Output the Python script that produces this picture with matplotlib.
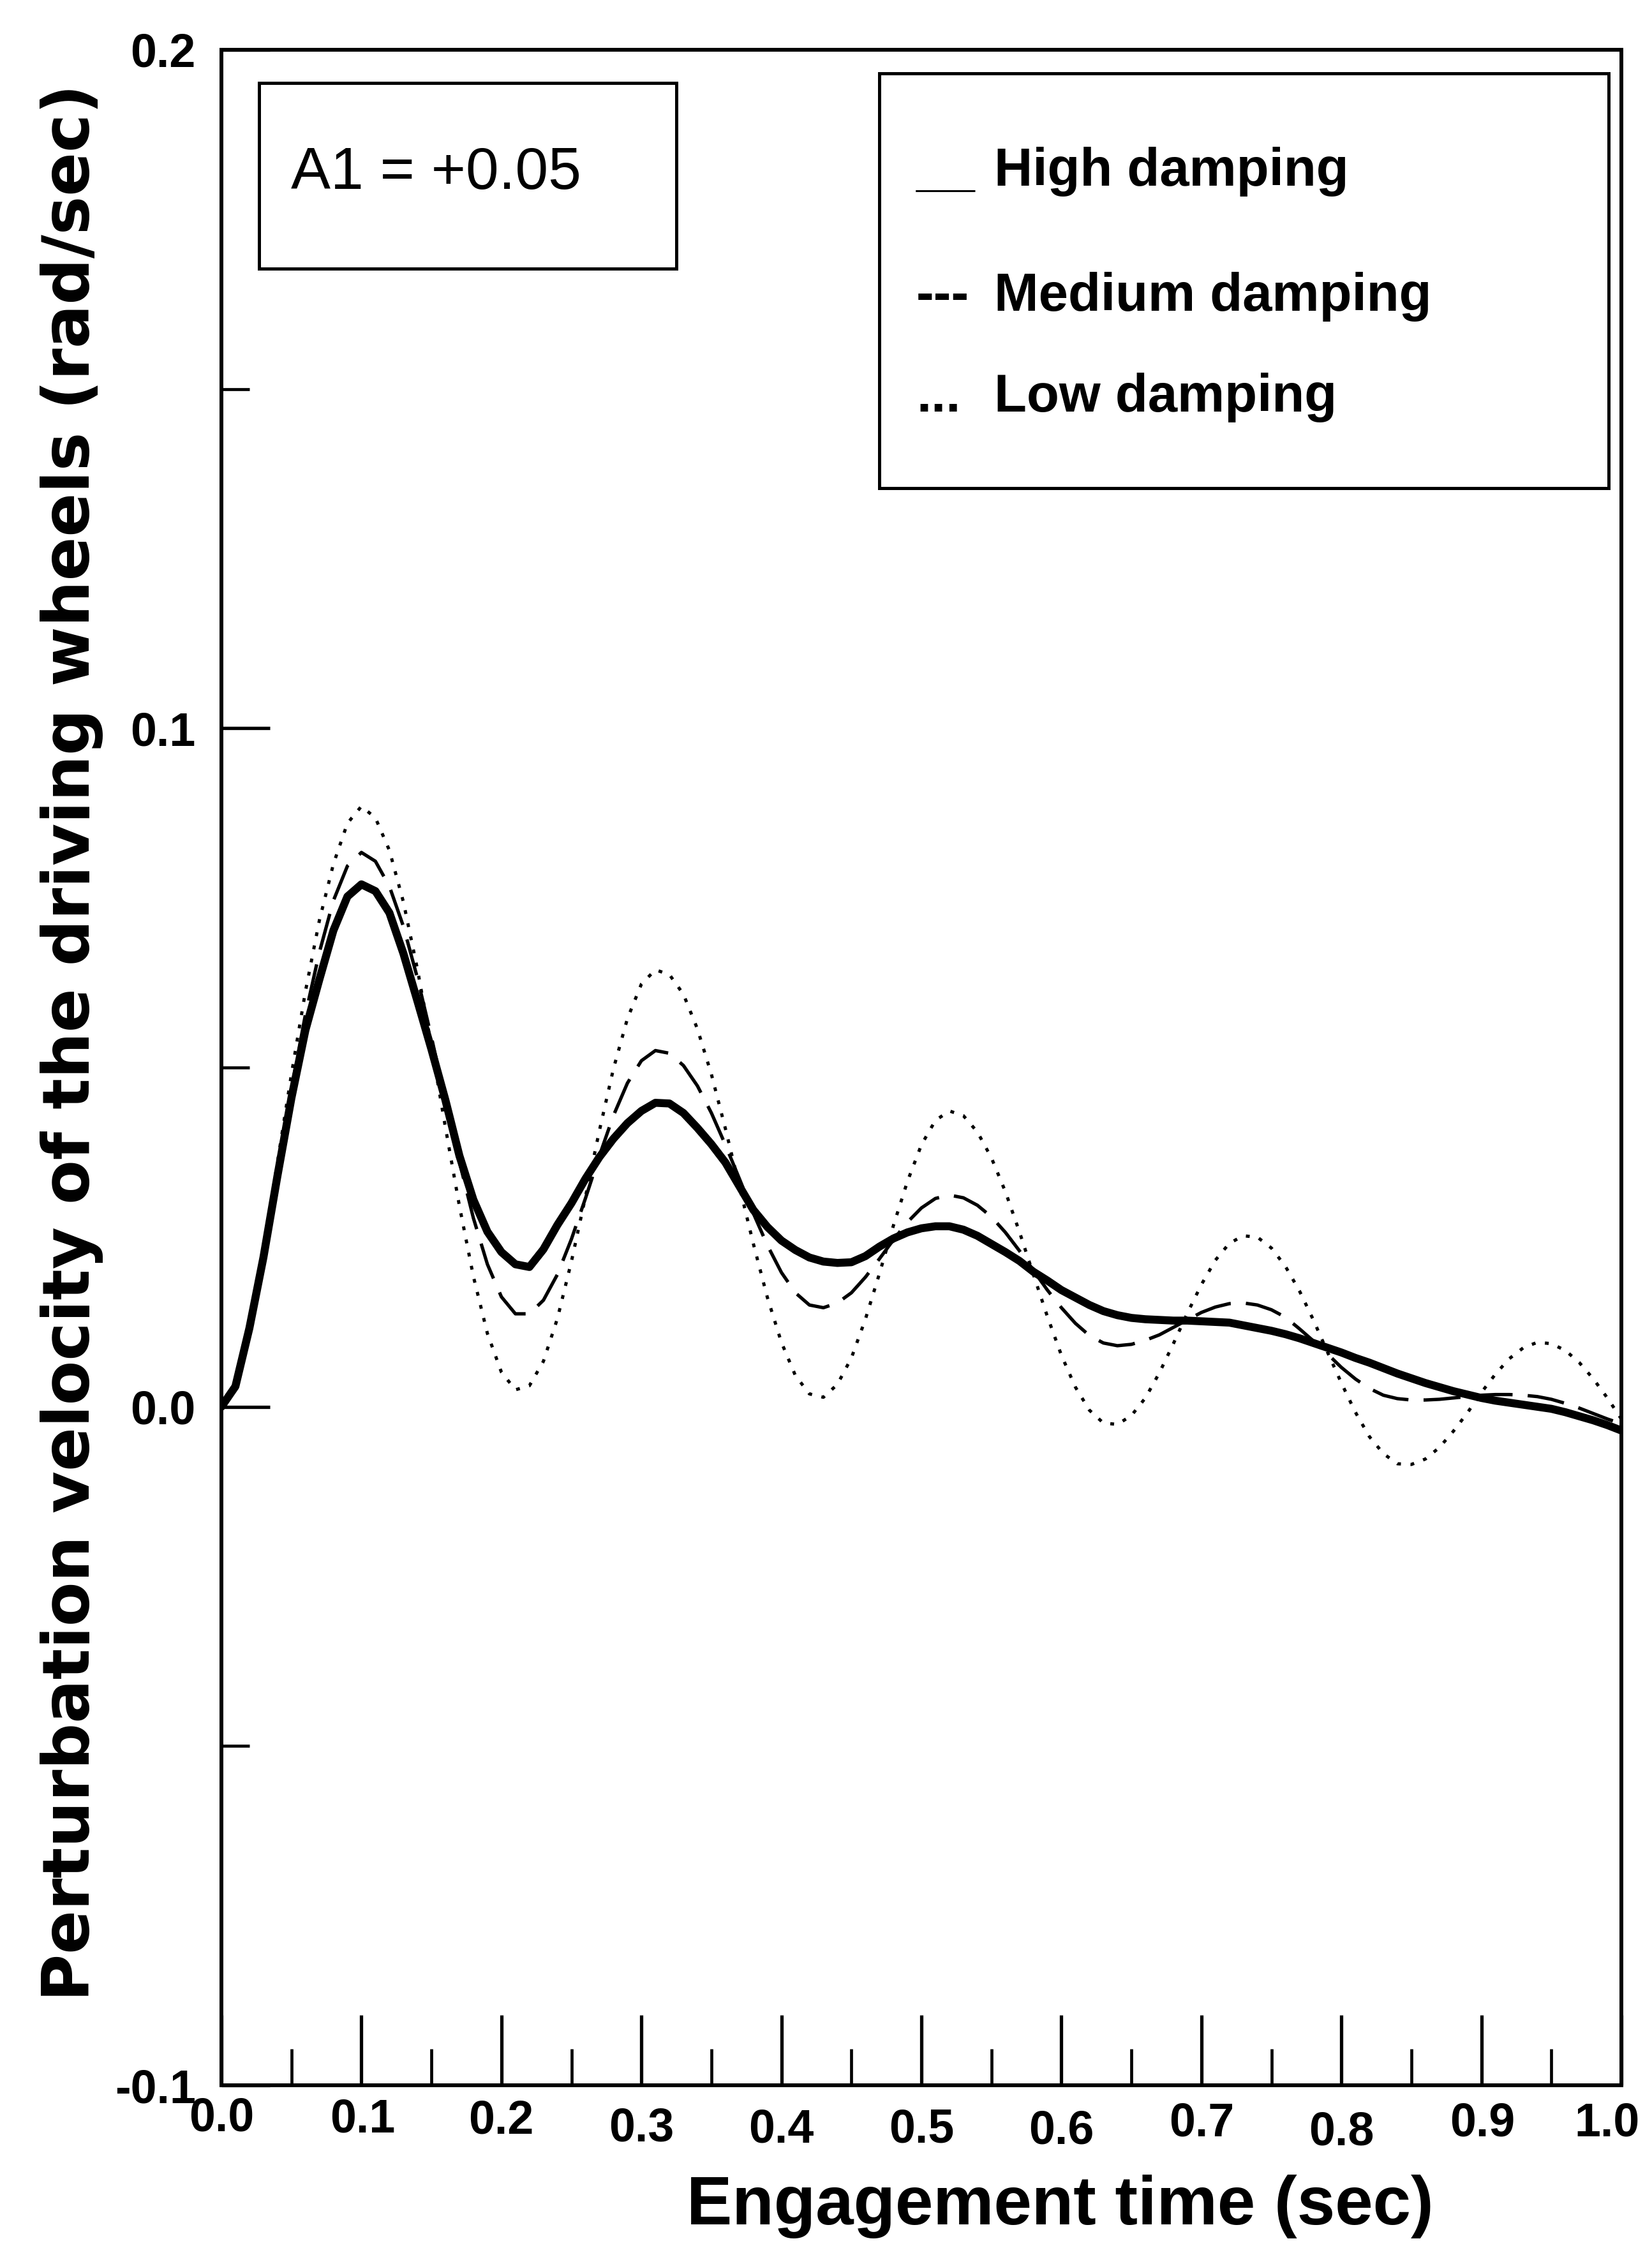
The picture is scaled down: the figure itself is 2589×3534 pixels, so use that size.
import numpy as np
import matplotlib
matplotlib.use("Agg")
import matplotlib.pyplot as plt
from matplotlib.patches import Rectangle
from matplotlib.transforms import blended_transform_factory, ScaledTranslation

# ---------------------------------------------------------------- data
time_s = np.linspace(0.0, 1.0, 101)

high_damping = [
    0.0000, 0.0030, 0.0116, 0.0220, 0.0340, 0.0455, 0.0555, 0.0630, 0.0702, 0.0752,
    0.0770, 0.0760, 0.0728, 0.0668, 0.0598, 0.0527, 0.0452, 0.0370, 0.0305, 0.0258,
    0.0228, 0.0210, 0.0206, 0.0232, 0.0268, 0.0300, 0.0336, 0.0368, 0.0395, 0.0418,
    0.0436, 0.0448, 0.0447, 0.0433, 0.0411, 0.0387, 0.0360, 0.0325, 0.0290, 0.0265,
    0.0245, 0.0231, 0.0220, 0.0214, 0.0212, 0.0213, 0.0222, 0.0236, 0.0248, 0.0257,
    0.0263, 0.0266, 0.0266, 0.0261, 0.0252, 0.0240, 0.0228, 0.0215, 0.0199, 0.0186,
    0.0172, 0.0161, 0.0150, 0.0141, 0.0135, 0.0131, 0.0129, 0.0128, 0.0127, 0.0127,
    0.0126, 0.0125, 0.0124, 0.0120, 0.0116, 0.0112, 0.0107, 0.0101, 0.0094, 0.0087,
    0.0080, 0.0072, 0.0065, 0.0057, 0.0049, 0.0042, 0.0035, 0.0029, 0.0023, 0.0018,
    0.0013, 0.0009, 0.0006, 0.0003, 0.0000, -0.0003, -0.0008, -0.0014, -0.0020, -0.0027,
    -0.0035,
]

medium_damping = [
    0.0000, 0.0030, 0.0116, 0.0223, 0.0345, 0.0468, 0.0578, 0.0670, 0.0746, 0.0797,
    0.0817, 0.0804, 0.0767, 0.0708, 0.0632, 0.0545, 0.0452, 0.0361, 0.0278, 0.0210,
    0.0162, 0.0137, 0.0137, 0.0157, 0.0195, 0.0247, 0.0307, 0.0370, 0.0429, 0.0477,
    0.0510, 0.0525, 0.0521, 0.0503, 0.0473, 0.0433, 0.0386, 0.0336, 0.0285, 0.0238,
    0.0198, 0.0168, 0.0150, 0.0146, 0.0153, 0.0168, 0.0191, 0.0218, 0.0246, 0.0272,
    0.0293, 0.0307, 0.0312, 0.0308, 0.0297, 0.0280, 0.0257, 0.0230, 0.0201, 0.0172,
    0.0146, 0.0123, 0.0105, 0.0094, 0.0090, 0.0092, 0.0098, 0.0106, 0.0117, 0.0128,
    0.0139, 0.0147, 0.0152, 0.0153, 0.0150, 0.0143, 0.0132, 0.0115, 0.0097, 0.0078,
    0.0058, 0.0041, 0.0027, 0.0017, 0.0012, 0.0010, 0.0010, 0.0011, 0.0013, 0.0015,
    0.0017, 0.0018, 0.0018, 0.0017, 0.0015, 0.0011, 0.0005, -0.0002, -0.0010, -0.0018,
    -0.0025,
]

low_damping = [
    0.0000, 0.0030, 0.0115, 0.0230, 0.0360, 0.0490, 0.0612, 0.0717, 0.0800, 0.0860,
    0.0885, 0.0868, 0.0820, 0.0744, 0.0645, 0.0532, 0.0412, 0.0296, 0.0192, 0.0108,
    0.0051, 0.0025, 0.0031, 0.0067, 0.0130, 0.0214, 0.0309, 0.0407, 0.0498, 0.0572,
    0.0623, 0.0644, 0.0637, 0.0608, 0.0557, 0.0490, 0.0410, 0.0325, 0.0240, 0.0161,
    0.0095, 0.0046, 0.0019, 0.0014, 0.0033, 0.0072, 0.0129, 0.0196, 0.0267, 0.0332,
    0.0386, 0.0422, 0.0436, 0.0429, 0.0405, 0.0367, 0.0317, 0.0258, 0.0195, 0.0133,
    0.0076, 0.0029, -0.0005, -0.0024, -0.0026, -0.0013, 0.0013, 0.0050, 0.0093, 0.0138,
    0.0180, 0.0216, 0.0241, 0.0252, 0.0250, 0.0234, 0.0207, 0.0171, 0.0128, 0.0081,
    0.0035, -0.0008, -0.0044, -0.0069, -0.0084, -0.0085, -0.0077, -0.0060, -0.0036, -0.0009,
    0.0021, 0.0048, 0.0071, 0.0087, 0.0095, 0.0093, 0.0083, 0.0065, 0.0041, 0.0013,
    -0.0018,
]

x_major_ticks = [0.0, 0.1, 0.2, 0.3, 0.4, 0.5, 0.6, 0.7, 0.8, 0.9, 1.0]
x_tick_labels = ["0.0", "0.1", "0.2", "0.3", "0.4", "0.5", "0.6", "0.7", "0.8", "0.9", "1.0"]
x_minor_ticks = [0.05, 0.15, 0.25, 0.35, 0.45, 0.55, 0.65, 0.75, 0.85, 0.95]
y_major_ticks = [-0.1, 0.0, 0.1, 0.2]
y_tick_labels = ["-0.1", "0.0", "0.1", "0.2"]
y_minor_ticks = [-0.05, 0.05, 0.15]

series_names = ["High damping", "Medium damping", "Low damping"]
series_marks = ["__", "---", "..."]
annotation = "A1 = +0.05"
x_title = "Engagement time (sec)"
y_title = "Perturbation velocity of the driving wheels (rad/sec)"

# ---------------------------------------------------------------- layout
W, H, DPI = 2589, 3534, 100
AX_L, AX_R, AX_T, AX_B = 347, 2541, 78, 3268

narrow = ["Liberation Sans Narrow", "Liberation Sans", "DejaVu Sans"]
sans = ["Liberation Sans", "DejaVu Sans"]


def fx(px):
    return px / W


def fy(py):
    return 1.0 - py / H


def ax_x(px):
    return (px - AX_L) / (AX_R - AX_L)


def ax_y(py):
    return (AX_B - py) / (AX_B - AX_T)


fig = plt.figure(figsize=(W / DPI, H / DPI), dpi=DPI)
fig.patch.set_facecolor("white")
ax = fig.add_axes([fx(AX_L), fy(AX_B), fx(AX_R) - fx(AX_L), fy(AX_T) - fy(AX_B)])

# curves
ax.plot(time_s, low_damping, color="black", lw=3.6, dashes=(1.2, 3.0))
ax.plot(time_s, medium_damping, color="black", lw=3.8, dashes=(11, 4.5))
ax.plot(time_s, high_damping, color="black", lw=9.0,
        solid_joinstyle="round", solid_capstyle="round")

ax.set_xlim(0.0, 1.0)
ax.set_ylim(-0.1, 0.2)

for sp in ax.spines.values():
    sp.set_linewidth(4.3)

# ticks
ax.set_xticks(x_major_ticks)
ax.set_xticks(x_minor_ticks, minor=True)
ax.tick_params(axis="x", which="major", direction="in", length=79, width=3.8,
               labelbottom=False)
ax.tick_params(axis="x", which="minor", direction="in", length=41, width=3.4)

ax.set_yticks(y_major_ticks)
ax.set_yticklabels(y_tick_labels)
ax.set_yticks(y_minor_ticks, minor=True)
ax.tick_params(axis="y", which="major", direction="in", length=55, width=3.8,
               pad=29, labelsize=53)
ax.tick_params(axis="y", which="minor", direction="in", length=32, width=3.4)
for lbl in ax.get_yticklabels():
    lbl.set_fontfamily(narrow)
    lbl.set_fontweight("bold")

# x tick labels, each with its own small offset below the axis
x_label_drop_px = [17, 19, 21, 33, 35, 35, 37, 25, 39, 25, 25]
x_label_shift_px = [0, 2, 0, 0, 0, 0, 0, 0, 0, 2, -22]
base = blended_transform_factory(ax.transData, ax.transAxes)
for xv, txt, dy, dx in zip(x_major_ticks, x_tick_labels, x_label_drop_px, x_label_shift_px):
    tr = base + ScaledTranslation(dx / DPI, -dy / DPI, fig.dpi_scale_trans)
    ax.text(xv, 0.0, txt, transform=tr, ha="center", va="top",
            fontsize=53, fontweight="bold", family=narrow, clip_on=False)

# axis titles
fig.text(fx(1661), fy(3486), x_title, ha="center", va="baseline",
         fontsize=77, fontweight="bold", family=sans)
fig.text(fx(140), fy(1634), y_title, rotation=90, rotation_mode="anchor",
         ha="center", va="baseline", fontsize=73, fontweight="bold",
         family=["DejaVu Sans"])

# parameter box
ax.add_patch(Rectangle((ax_x(406), ax_y(421)), ax_x(1060) - ax_x(406),
                       ax_y(130) - ax_y(421), transform=ax.transAxes,
                       fill=False, lw=3.6, ec="black", clip_on=False))
ax.text(ax_x(456), ax_y(296), annotation, transform=ax.transAxes,
        ha="left", va="baseline", fontsize=67, family=sans)

# key box with typed line marks
ax.add_patch(Rectangle((ax_x(1378), ax_y(765)), ax_x(2521) - ax_x(1378),
                       ax_y(115) - ax_y(765), transform=ax.transAxes,
                       fill=False, lw=3.6, ec="black", clip_on=False))
row_baselines = [291, 487, 645]
for name, mark, yb in zip(series_names, series_marks, row_baselines):
    ax.text(ax_x(1436), ax_y(yb), mark, transform=ax.transAxes, ha="left",
            va="baseline", fontsize=60, fontweight="bold", family=sans)
    ax.text(ax_x(1558), ax_y(yb), name, transform=ax.transAxes, ha="left",
            va="baseline", fontsize=60, fontweight="bold", family=sans)

fig.savefig("out.png", dpi=DPI, facecolor="white")
